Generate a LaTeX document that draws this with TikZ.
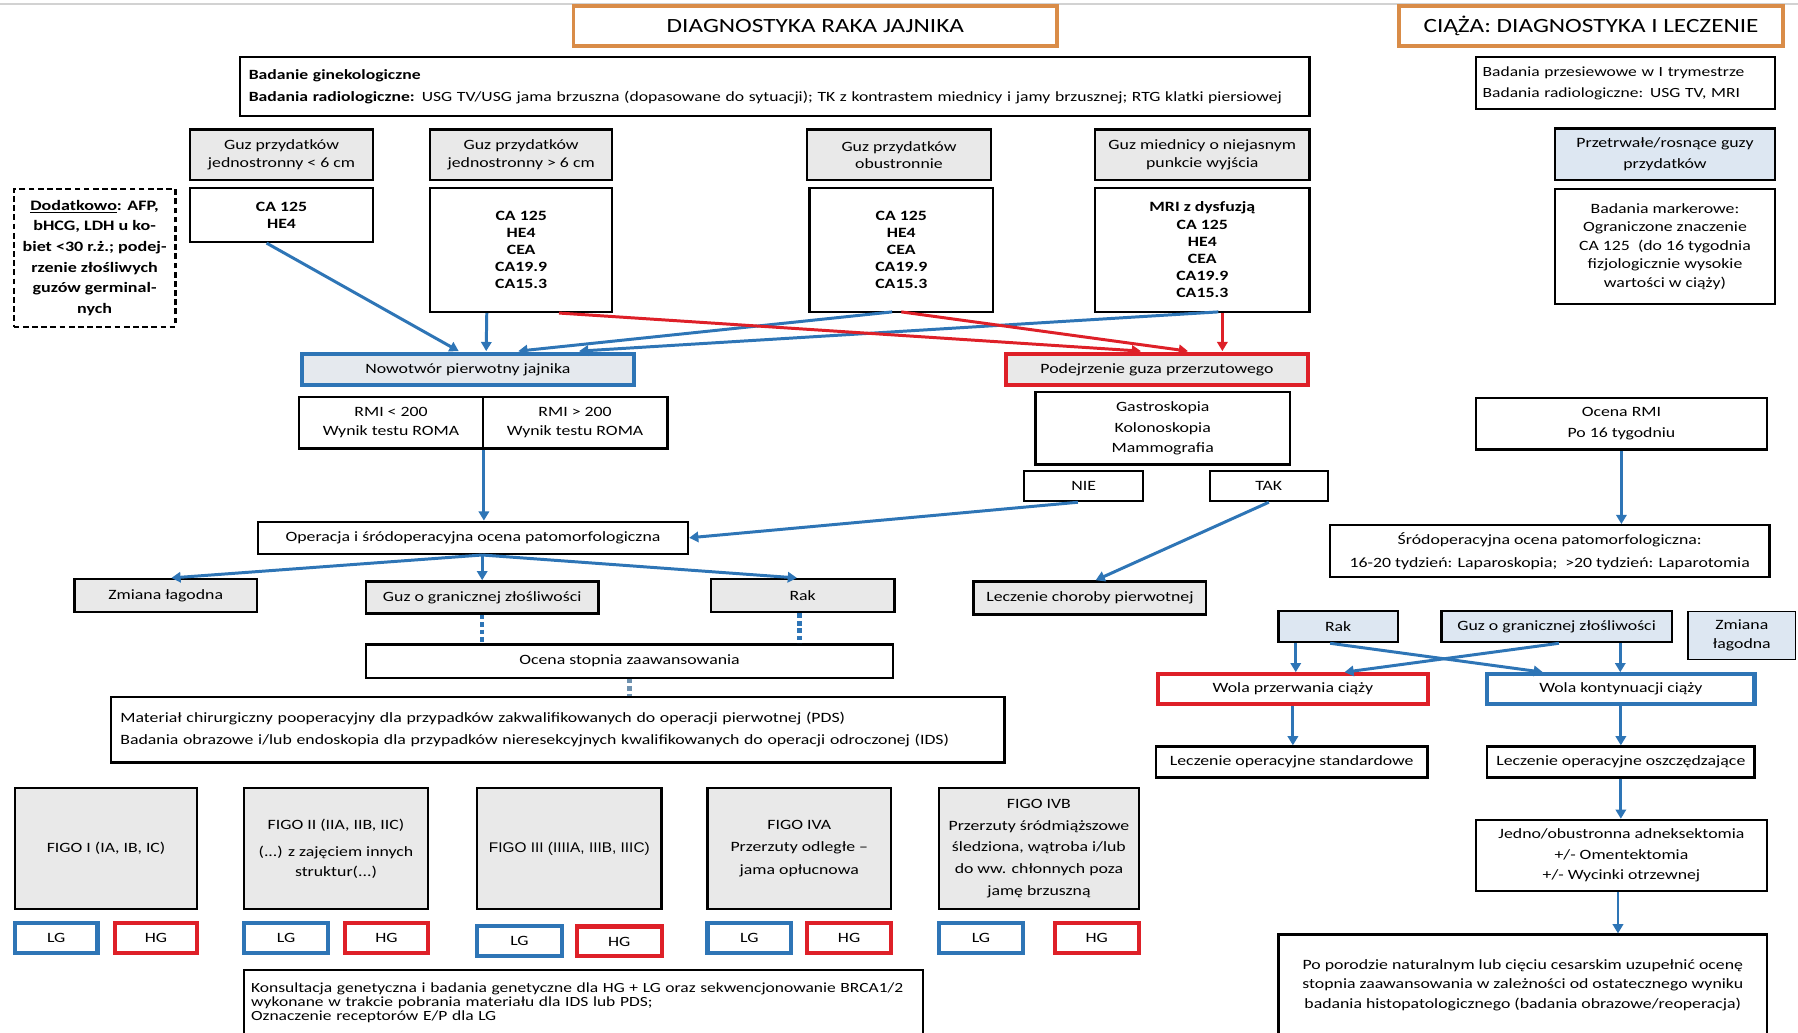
\documentclass[tikz,border=0pt]{standalone}
\usepackage{fontspec}
\setmainfont{Carlito}[FakeStretch=1.25]
\newfontfamily\arialfont{Liberation Sans}[FakeStretch=1.1]
\usetikzlibrary{arrows.meta,calc}
\definecolor{cblue}{RGB}{46,117,182}
\definecolor{cred}{RGB}{222,32,40}
\definecolor{corange}{RGB}{217,140,72}
\definecolor{gfill}{RGB}{233,233,233}
\definecolor{bfill}{RGB}{221,231,242}
\definecolor{pfill}{RGB}{229,233,238}
\definecolor{dashcol}{RGB}{110,145,175}
\newcommand\nf{\fontsize{12.4}{15}\selectfont}
\begin{document}
\begin{tikzpicture}[x=1pt,y=-1pt,
  sz/.style n args={2}{minimum width=#1pt,minimum height=#2pt},
  base/.style={draw=black,line width=2pt,align=center,inner sep=2pt,font=\nf,fill=white},
  gbox/.style={base,fill=gfill},
  bluebox/.style={base,fill=bfill},
  titlebox/.style={draw=corange,line width=3.2pt,fill=white,font=\fontsize{17.6}{20}\selectfont},
  bframe/.style={base,draw=cblue,line width=3.6pt},
  rframe/.style={base,draw=cred,line width=3.6pt},
  arr/.style={draw=cblue,line width=2.6pt,-{Triangle[width=9pt,length=8pt]}},
  rarr/.style={draw=cred,line width=2.6pt,-{Triangle[width=9pt,length=8pt]}},
  dsh/.style={draw=cblue,line width=4pt,dash pattern=on 4pt off 2.5pt},
  markers/.style={font=\fontsize{12.4}{15}\selectfont\bfseries}
]
\useasboundingbox (0,0) rectangle (1568,900);
\fill[white] (0,0) rectangle (1568,900);
\draw[gray!35,line width=1.6pt] (0,3.5) -- (1568,3.5);

% ---------- titles ----------
\node[titlebox,sz={422}{35}] (t1) at (711,22.5) {DIAGNOSTYKA RAKA JAJNIKA};
\node[titlebox,sz={335}{35}] (t2) at (1387.5,22.5) {CIĄŻA: DIAGNOSTYKA I LECZENIE};

% ---------- diagnostics: entry ----------
\node[base,sz={933}{51},text width=917pt,align=left,inner xsep=8pt,font=\fontsize{12.3}{19}\selectfont] (exam) at (675.5,75.5)
  {\textbf{Badanie ginekologiczne}\\\textbf{Badania radiologiczne:} USG TV/USG jama brzuszna (dopasowane do sytuacji); TK z kontrastem miednicy i jamy brzusznej; RTG klatki piersiowej};

\node[gbox,sz={159}{44}] (g1) at (245.5,135) {Guz przydatków\\jednostronny < 6 cm};
\node[gbox,sz={159}{44}] (g2) at (454.5,135) {Guz przydatków\\jednostronny > 6 cm};
\node[gbox,sz={160}{44}] (g3) at (784,135) {Guz przydatków\\obustronnie};
\node[gbox,sz={187}{44}] (g4) at (1048.5,135) {Guz miednicy o niejasnym\\punkcie wyjścia};

\node[base,markers,sz={159}{47}] (m1) at (245.5,187.5) {CA 125\\HE4};
\node[base,markers,sz={159}{108}] (m2) at (454.5,218) {CA 125\\HE4\\CEA\\CA19.9\\CA15.3};
\node[base,markers,sz={160}{108}] (m3) at (786,218) {CA 125\\HE4\\CEA\\CA19.9\\CA15.3};
\node[base,markers,sz={187}{108}] (m4) at (1048.5,218) {MRI z dysfuzją\\CA 125\\HE4\\CEA\\CA19.9\\CA15.3};

\node[base,dashed,line width=2pt,dash pattern=on 5pt off 3pt,sz={141}{120},font=\fontsize{12.6}{18}\selectfont\bfseries] (dod) at (82.5,225)
  {\underline{Dodatkowo}: AFP,\\bHCG, LDH u ko-\\biet <30 r.ż.; podej-\\rzenie złośliwych\\guzów germinal-\\nych};

\node[bframe,fill=pfill,sz={290}{27}] (pri) at (408,322.5) {Nowotwór pierwotny jajnika};
\node[rframe,fill=gfill,sz={264}{27}] (met) at (1009,322.5) {Podejrzenie guza przerzutowego};

\node[base,sz={160}{45},font=\fontsize{12.4}{17}\selectfont] (rmi1) at (341,368.5) {RMI < 200\\Wynik testu ROMA};
\node[base,sz={161}{45},font=\fontsize{12.4}{17}\selectfont] (rmi2) at (501.5,368.5) {RMI > 200\\Wynik testu ROMA};

\node[base,sz={222}{63},font=\fontsize{12.4}{18}\selectfont] (endo) at (1014,373.5) {Gastroskopia\\Kolonoskopia\\Mammografia};
\node[base,sz={104}{26}] (nie) at (945,424) {NIE};
\node[base,sz={103}{26}] (tak) at (1106.5,424) {TAK};

\node[base,sz={375}{28}] (op) at (412.5,469) {Operacja i śródoperacyjna ocena patomorfologiczna};

\node[gbox,sz={159}{29}] (zl) at (144.5,519.5) {Zmiana łagodna};
\node[gbox,sz={203}{28}] (bord) at (420.5,521) {Guz o granicznej złośliwości};
\node[gbox,sz={160}{29}] (rak) at (700,519.5) {Rak};
\node[gbox,sz={203}{29}] (lcp) at (950.5,521.5) {Leczenie choroby pierwotnej};

\node[base,sz={460}{29}] (stage) at (549,576.5) {Ocena stopnia zaawansowania};

\node[base,sz={779}{57},text width=763pt,align=left,inner xsep=8pt,font=\fontsize{12.4}{19}\selectfont] (mat) at (486.5,636.5)
  {Materiał chirurgiczny pooperacyjny dla przypadków zakwalifikowanych do operacji pierwotnej (PDS)\\Badania obrazowe i/lub endoskopia dla przypadków nieresekcyjnych kwalifikowanych do operacji odroczonej (IDS)};

% ---------- FIGO stages ----------
\node[gbox,sz={159}{106}] (f1) at (92.5,740) {FIGO I (IA, IB, IC)};
\node[gbox,sz={160}{106},font=\fontsize{12.4}{17}\selectfont] (f2) at (293,740) {FIGO II (IIA, IIB, IIC)\\[7pt](...) z zajęciem innych\\struktur(...)};
\node[gbox,sz={161}{106},font=\arialfont\fontsize{12.2}{14}\selectfont] (f3) at (496.5,740) {FIGO III (IIIIA, IIIB, IIIC)};
\node[gbox,sz={160}{106},font=\fontsize{12.4}{20}\selectfont] (f4) at (697,740) {FIGO IVA\\Przerzuty odległe --\\jama opłucnowa};
\node[gbox,sz={174}{106},font=\fontsize{12.4}{19}\selectfont] (f5) at (906,740) {FIGO IVB\\Przerzuty śródmiąższowe\\śledziona, wątroba i/lub\\do ww. chłonnych poza\\jamę brzuszną};

\node[bframe,sz={72}{26}] (lg1) at (49,818) {LG};
\node[rframe,sz={72}{26}] (hg1) at (136,818) {HG};
\node[bframe,sz={73}{26}] (lg2) at (249.5,818) {LG};
\node[rframe,sz={72}{26}] (hg2) at (337,818) {HG};
\node[bframe,sz={74}{26}] (lg3) at (453,820.5) {LG};
\node[rframe,sz={74}{26}] (hg3) at (540,821) {HG};
\node[bframe,sz={73}{26}] (lg4) at (653.5,818) {LG};
\node[rframe,sz={73}{26}] (hg4) at (740.5,818) {HG};
\node[bframe,sz={73}{26}] (lg5) at (855.5,818) {LG};
\node[rframe,sz={73}{26}] (hg5) at (956.5,818) {HG};

\node[base,sz={592}{57},text width=580pt,align=left,inner xsep=6pt,font=\fontsize{12.2}{12}\selectfont] (gen) at (509,874.5)
  {Konsultacja genetyczna i badania genetyczne dla HG + LG oraz sekwencjonowanie BRCA1/2\\wykonane w trakcie pobrania materiału dla IDS lub PDS;\\Oznaczenie receptorów E/P dla LG};

% ---------- pregnancy ----------
\node[base,sz={261}{45},text width=249pt,align=left,inner xsep=6pt,font=\fontsize{12.2}{18}\selectfont] (scr) at (1417.5,72.5)
  {Badania przesiewowe w I trymestrze\\Badania radiologiczne: USG TV, MRI};
\node[bluebox,sz={192}{45},font=\fontsize{12.4}{18}\selectfont] (pers) at (1452,134.5) {Przetrwałe/rosnące guzy\\przydatków};
\node[base,sz={192}{100},font=\fontsize{12.4}{16}\selectfont] (mark) at (1452,215) {Badania markerowe:\\Ograniczone znaczenie\\CA 125 ~(do 16 tygodnia\\fizjologicznie wysokie\\wartości w ciąży)};

\node[base,sz={254}{45},font=\fontsize{12.4}{18}\selectfont] (ormi) at (1414,369.5) {Ocena RMI\\Po 16 tygodniu};
\node[base,sz={383}{45},font=\fontsize{12.4}{20}\selectfont] (iop) at (1351.5,480.5) {Śródoperacyjna ocena patomorfologiczna:\\16-20 tydzień: Laparoskopia; ~>20 tydzień: Laparotomia};

\node[bluebox,sz={104}{27}] (rrak) at (1167,546.5) {Rak};
\node[bluebox,sz={201}{27}] (rbord) at (1357.5,546.5) {Guz o granicznej złośliwości};
\node[bluebox,line width=1.2pt,sz={94}{42},font=\fontsize{12.4}{16}\selectfont] (rzl) at (1519,554) {Zmiana\\łagodna};

\node[rframe,sz={235}{26}] (term) at (1127.5,601) {Wola przerwania ciąży};
\node[bframe,sz={233}{26}] (cont) at (1413.5,601) {Wola kontynuacji ciąży};
\node[base,sz={237}{27}] (lstd) at (1126.5,664.5) {Leczenie operacyjne standardowe};
\node[base,sz={233}{27}] (lsp) at (1413.5,664.5) {Leczenie operacyjne oszczędzające};
\node[base,sz={254}{62},font=\fontsize{12.4}{18}\selectfont] (adn) at (1414,746) {Jedno/obustronna adneksektomia\\+/- Omentektomia\\+/- Wycinki otrzewnej};
\node[base,sz={426}{88},font=\fontsize{12.4}{17}\selectfont] (post) at (1328,859) {Po porodzie naturalnym lub cięciu cesarskim uzupełnić ocenę\\stopnia zaawansowania w zależności od ostatecznego wyniku\\badania histopatologicznego (badania obrazowe/reoperacja)};

% ---------- connector anchor points ----------
\coordinate (rakdash) at ($(rak.south)+(-3,0)$);
\coordinate (rrakL) at ($(rrak.south)+(-37,0)$);
\coordinate (rbordR) at ($(rbord.south)+(55.5,0)$);
\coordinate (adnout) at ($(adn.south)+(-3,0)$);

% ---------- connectors: diagnostics ----------
\draw[arr] ($(m1.south)+(-13,0)$) -- ($(pri.north)+(-8,-1)$);
\draw[arr] ($(m2.south)+(-30,0)$) -- ($(pri.north)+(16,-1)$);
\draw[arr] ($(m3.south)+(-8,-1)$) -- ($(pri.north)+(44,-1)$);
\draw[arr] ($(m4.south)+(14,-1)$) -- ($(pri.north)+(97,-1)$);
\draw[rarr] ($(m2.south)+(33,0)$) -- ($(met.north)+(-14,-1)$);
\draw[rarr] ($(m3.south)+(0,-1)$) -- ($(met.north)+(27,-1)$);
\draw[rarr] ($(m4.south)+(17.5,0)$) -- ($(met.north)+(57,-1)$);

\draw[arr] (rmi1.south east) -- (rmi1.south east |- op.north);
\draw[arr] ($(nie.south)+(-5,0)$) -- (op.east);
\draw[arr] (tak.south) -- ($(lcp.north)+(5,0)$);
\draw[arr] ($(op.south)+(8,0)$) -- ($(zl.north)+(5,0)$);
\draw[arr] ($(op.south)+(8,0)$) -- (bord.north);
\draw[arr] ($(op.south)+(8,0)$) -- ($(rak.north)+(-5,0)$);

\draw[dsh] (bord.south) -- (bord.south |- stage.north);
\draw[dsh] (rakdash) -- (rakdash |- stage.north);
\draw[dsh,draw=dashcol] (stage.south) -- (stage.south |- mat.north);

% ---------- connectors: pregnancy ----------
\draw[arr] (ormi.south) -- (ormi.south |- iop.north);
\draw[arr] (rrakL) -- (rrakL |- term.north);
\draw[arr] ($(rrak.south)+(-7,0)$) -- ($(cont.north)+(-68,0)$);
\draw[arr] ($(rbord.south)+(2,0)$) -- ($(term.north)+(45,0)$);
\draw[arr] (rbordR) -- (rbordR |- cont.north);
\draw[arr] (term.south) -- (term.south |- lstd.north);
\draw[arr] (cont.south) -- (cont.south |- lsp.north);
\draw[arr] (lsp.south) -- (lsp.south |- adn.north);
\draw[arr] (adnout) -- (adnout |- post.north);
\end{tikzpicture}
\end{document}
